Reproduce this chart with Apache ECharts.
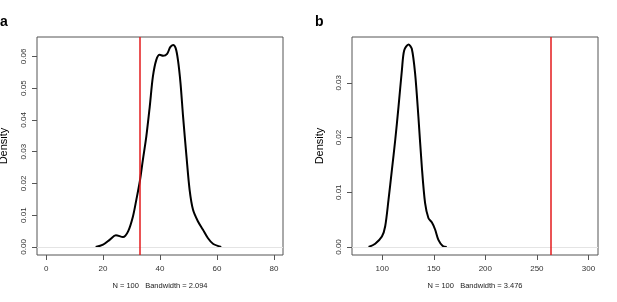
<!DOCTYPE html>
<html>
<head>
<meta charset="utf-8">
<script src="https://cdn.jsdelivr.net/npm/echarts@6/dist/echarts.min.js"></script>
<style>
  html, body { margin: 0; padding: 0; background: #fff; }
  #chart { width: 617px; height: 302px; }
</style>
</head>
<body>
<div id="chart"></div>
<script>
// panel a: density curve (x, density)
const xA = [17.4, 20.0, 22.4, 24.5, 27.0, 28.8, 30.5, 31.7, 32.9, 34.0, 35.2, 36.4, 37.5, 38.7, 39.9, 41.1, 42.5, 43.6, 44.6, 45.5, 46.3, 47.2, 48.1, 49.3, 50.4, 51.6, 53.3, 55.1, 56.8, 58.6, 61.5]
const yA = [0, 0.0007, 0.0023, 0.0037, 0.0031, 0.0049, 0.0096, 0.0149, 0.0206, 0.0275, 0.0348, 0.0442, 0.0536, 0.0589, 0.0605, 0.0602, 0.0608, 0.0629, 0.0636, 0.0626, 0.0589, 0.0516, 0.0411, 0.0285, 0.018, 0.0117, 0.0081, 0.0054, 0.0028, 0.001, 0]
// panel b
const xB = [86.8, 93.2, 99.7, 102.9, 106.1, 109.4, 112.6, 115.8, 119.1, 121.3, 125.5, 128.7, 131.9, 135.1, 138.4, 141.6, 144.8, 148.1, 151.3, 154.5, 158.7, 162.6]
const yB = [0, 0.0006, 0.0019, 0.0038, 0.0086, 0.0141, 0.0195, 0.0256, 0.0323, 0.0359, 0.037, 0.0362, 0.0317, 0.0238, 0.0147, 0.008, 0.0053, 0.0045, 0.0032, 0.0013, 0.0002, 0]
// observed values (red lines)
const obsA = 33
const obsB = 263.2
// tick labels
const xTicksA = [0, 20, 40, 60, 80]
const yTicksA = [0, 0.01, 0.02, 0.03, 0.04, 0.05, 0.06]
const xTicksB = [100, 150, 200, 250, 300]
const yTicksB = [0, 0.01, 0.02, 0.03]
const notes = ['N = 100   Bandwidth = 2.094', 'N = 100   Bandwidth = 3.476']

const FONT = 'Liberation Sans'
const chart = echarts.init(document.getElementById('chart'))

function xAxis(idx, min, max, ticks, note) {
  return {
    type: 'value', gridIndex: idx, min, max,
    axisLine: { show: false, onZero: false },
    axisTick: { show: true, length: 5, customValues: ticks, lineStyle: { color: '#555' } },
    axisLabel: { customValues: ticks, fontFamily: FONT, fontSize: 8, color: '#333', margin: 10 },
    splitLine: { show: false },
    name: note, nameLocation: 'middle', nameGap: 27,
    nameTextStyle: { fontFamily: FONT, fontSize: 7.5, color: '#222' }
  }
}
function yAxis(idx, min, max, ticks, gap) {
  return {
    type: 'value', gridIndex: idx, min, max,
    axisLine: { show: false, onZero: false },
    axisTick: { show: true, length: 5, customValues: ticks, lineStyle: { color: '#555' } },
    axisLabel: {
      customValues: ticks, rotate: 90, fontFamily: FONT, fontSize: 8, color: '#333', margin: 9,
      formatter: v => v.toFixed(2)
    },
    splitLine: { show: false },
    name: 'Density', nameLocation: 'middle', nameGap: gap,
    nameTextStyle: { fontFamily: FONT, fontSize: 11, color: '#000' }
  }
}
function curve(idx, xs, ys, obs) {
  return {
    type: 'line', xAxisIndex: idx, yAxisIndex: idx,
    data: xs.map((x, i) => [x, ys[i]]),
    smooth: 0.3, showSymbol: false, silent: true,
    lineStyle: { color: '#000', width: 2 },
    markLine: {
      symbol: 'none', silent: true, label: { show: false },
      data: [
        { yAxis: 0, lineStyle: { color: '#e4e4e4', width: 1, type: 'solid' } },
        { xAxis: obs, lineStyle: { color: '#e31a1c', width: 1.5, type: 'solid' } }
      ]
    }
  }
}

chart.setOption({
  animation: false,
  title: [
    { text: 'a', left: 0, top: 15, padding: 0, textStyle: { fontFamily: FONT, fontSize: 14, fontWeight: 'bold', color: '#000' } },
    { text: 'b', left: 315, top: 15, padding: 0, textStyle: { fontFamily: FONT, fontSize: 14, fontWeight: 'bold', color: '#000' } }
  ],
  grid: [
    { left: 37, top: 37, width: 246, height: 218, show: true, borderColor: '#555', borderWidth: 1, outerBoundsMode: 'none', containLabel: false },
    { left: 352, top: 37, width: 246, height: 218, show: true, borderColor: '#555', borderWidth: 1, outerBoundsMode: 'none', containLabel: false }
  ],
  xAxis: [
    xAxis(0, -3.2, 83.2, xTicksA, notes[0]),
    xAxis(1, 70.7, 309.3, xTicksB, notes[1])
  ],
  yAxis: [
    yAxis(0, -0.00254, 0.0661, yTicksA, 28),
    yAxis(1, -0.00146, 0.03836, yTicksB, 27)
  ],
  series: [
    curve(0, xA, yA, obsA),
    curve(1, xB, yB, obsB)
  ]
})
</script>
</body>
</html>
